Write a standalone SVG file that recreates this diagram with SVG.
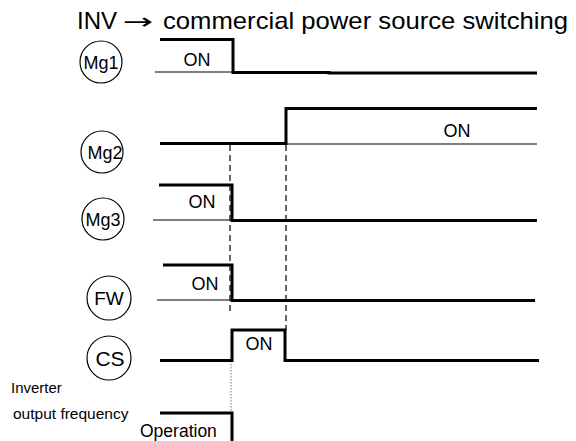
<svg xmlns="http://www.w3.org/2000/svg" width="576" height="441" viewBox="0 0 576 441">
<style>
text{font-family:"Liberation Sans",Arial,sans-serif;fill:#000}
.sig{fill:none;stroke:#000;stroke-width:3;stroke-linejoin:miter}
.thin{fill:none;stroke:#000;stroke-width:1.2}
.dash{fill:none;stroke:#000;stroke-width:1.2;stroke-dasharray:6,4}
.dot{fill:none;stroke:#777;stroke-width:1;stroke-dasharray:1.5,1.5}
.circ{fill:none;stroke:#000;stroke-width:1.2}
.lbl{font-size:18px;text-anchor:middle}
.on{font-size:18px;text-anchor:middle}
</style>
<rect width="576" height="441" fill="#fff"/>
<g id="title">
<text x="77" y="29" font-size="24">INV</text>
<text x="0" y="0" transform="translate(123,29) scale(1.65,1)" style="font-family:'DejaVu Sans',sans-serif;font-size:22px">→</text>
<text x="163" y="29" font-size="24" textLength="405" lengthAdjust="spacingAndGlyphs">commercial power source switching</text>
</g>
<g id="connectors">
<path class="dash" d="M230,145 V312"/>
<path class="dash" d="M286,145 V330"/>
<path class="dot" d="M231,361 V412"/>
</g>
<g id="Mg1">
<circle class="circ" cx="101" cy="62" r="21"/>
<text class="lbl" x="101" y="68.5">Mg1</text>
<path class="thin" d="M155,72 H233"/>
<path class="sig" d="M160,39.5 H233 V72.5 H329 V73 H537"/>
<text class="on" x="197" y="65.5">ON</text>
</g>
<g id="Mg2">
<circle class="circ" cx="102" cy="152" r="21"/>
<text class="lbl" x="105" y="158.5">Mg2</text>
<path class="sig" d="M160,143.5 H286 V108.5 H537"/>
<path class="thin" d="M286,144 H537"/>
<text class="on" x="457" y="137">ON</text>
</g>
<g id="Mg3">
<circle class="circ" cx="103" cy="219" r="21"/>
<text class="lbl" x="103" y="225.5">Mg3</text>
<path class="thin" d="M153,220 H232"/>
<path class="sig" d="M159,185 H232 V220.5 H537"/>
<text class="on" x="202" y="208">ON</text>
</g>
<g id="FW">
<circle class="circ" cx="109" cy="298" r="22"/>
<text class="lbl" x="109" y="305" style="font-size:19px">FW</text>
<path class="thin" d="M157,300 H232"/>
<path class="sig" d="M163,265 H232 V300.5 H535"/>
<text class="on" x="205" y="290">ON</text>
</g>
<g id="CS">
<circle class="circ" cx="109" cy="358" r="22"/>
<text class="lbl" x="110" y="366" style="font-size:21px">CS</text>
<path class="sig" d="M160,360.5 H232 V330 H285 V360.5 H539"/>
<text class="on" x="259" y="350">ON</text>
</g>
<g id="output">
<text x="11" y="393" font-size="15">Inverter</text>
<text x="13" y="419" font-size="15.5">output frequency</text>
<path class="sig" d="M160,413 H232 V441"/>
<text x="140" y="437" font-size="17.5">Operation</text>
</g>
</svg>
